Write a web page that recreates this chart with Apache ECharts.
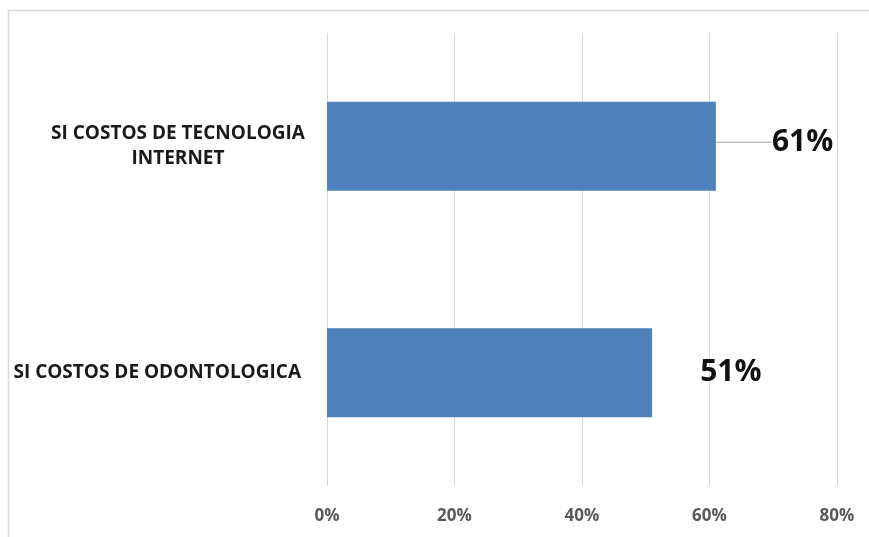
<!DOCTYPE html>
<html>
<head>
<meta charset="utf-8">
<script src="https://cdn.jsdelivr.net/npm/echarts@6/dist/echarts.min.js"></script>
<style>
  html, body { margin: 0; padding: 0; background: #ffffff; }
  #chart { width: 869px; height: 537px; }
</style>
</head>
<body>
<div id="chart"></div>
<script>
// Categories (top to bottom) and their shares
const categories = ['SI COSTOS DE TECNOLOGIA\nINTERNET', 'SI COSTOS DE ODONTOLOGICA'];
const shares = [0.61, 0.51];
const axisTicks = [0, 0.2, 0.4, 0.6, 0.8];

const FONT_FAMILY = '"Open Sans", "Noto Sans", sans-serif';
const CAT_SIZE = 19;

// Measure a string so that wrapped lines can be centered under the first line
const measureCanvas = document.createElement('canvas').getContext('2d');
measureCanvas.font = 'bold ' + CAT_SIZE + 'px ' + FONT_FAMILY;
function textWidth(s) { return Math.ceil(measureCanvas.measureText(s).width); }

// Width of the block used for wrapped category names
const wrapWidth = Math.max(...categories
  .filter(c => c.indexOf('\n') >= 0)
  .map(c => textWidth(c.split('\n')[0])), 0);

const chart = echarts.init(document.getElementById('chart'));

chart.setOption({
  backgroundColor: '#ffffff',
  animation: false,
  graphic: [{
    type: 'rect',
    shape: { x: 8.5, y: 10.5, width: 900, height: 600 },
    style: { fill: 'none', stroke: '#d9d9d9', lineWidth: 1.5 },
    silent: true
  }],
  grid: { left: 327, right: 32, top: 33, bottom: 51, containLabel: false },
  xAxis: {
    type: 'value',
    min: axisTicks[0],
    max: axisTicks[axisTicks.length - 1],
    interval: axisTicks[1] - axisTicks[0],
    axisLine: { show: false },
    axisTick: { show: false },
    splitLine: { show: true, lineStyle: { color: '#d9d9d9', width: 1 } },
    axisLabel: {
      margin: 22,
      color: '#595959',
      fontFamily: FONT_FAMILY,
      fontWeight: 'bold',
      fontSize: 17,
      formatter: v => Math.round(v * 100) + '%'
    }
  },
  yAxis: {
    type: 'category',
    inverse: true,
    data: categories,
    axisLine: { show: false },
    axisTick: { show: false },
    axisLabel: {
      margin: 22,
      formatter: function (value) {
        const lines = value.split('\n');
        const style = lines.length > 1 ? 'w' : 'c';
        return lines.map(l => '{' + style + '|' + l + '}').join('\n');
      },
      rich: {
        c: {
          color: '#1a1a1a',
          fontFamily: FONT_FAMILY,
          fontWeight: 'bold',
          fontSize: CAT_SIZE,
          lineHeight: 25,
          padding: [0, 4, 0, 0]
        },
        w: {
          color: '#1a1a1a',
          fontFamily: FONT_FAMILY,
          fontWeight: 'bold',
          fontSize: CAT_SIZE,
          lineHeight: 25,
          align: 'center',
          width: wrapWidth
        }
      }
    }
  },
  series: [{
    type: 'bar',
    barWidth: 89,
    itemStyle: { color: '#4f81bd' },
    data: shares.map((v, i) => i === 0
      ? { value: v, labelLine: { show: true } }
      : { value: v }),
    label: {
      show: true,
      position: 'right',
      distance: 48,
      color: '#111111',
      fontFamily: FONT_FAMILY,
      fontWeight: 'bold',
      fontSize: 30,
      formatter: p => Math.round(p.value * 100) + '%'
    },
    labelLine: {
      show: false,
      lineStyle: { color: '#a6a6a6', width: 1 }
    },
    labelLayout: function (params) {
      if (params.dataIndex === 0) {
        return { dx: 8, dy: -4 };
      }
      return {};
    }
  }]
});
</script>
</body>
</html>
